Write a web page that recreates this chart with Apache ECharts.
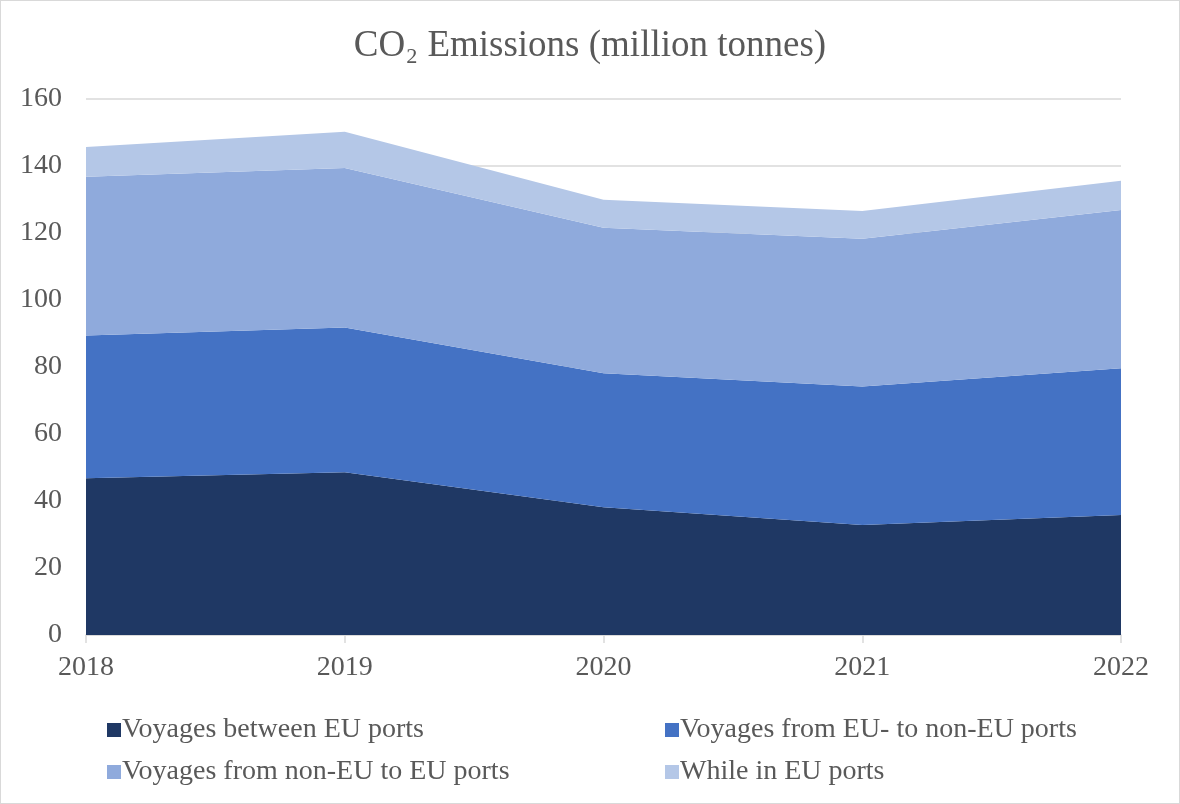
<!DOCTYPE html>
<html>
<head>
<meta charset="utf-8">
<script src="https://cdn.jsdelivr.net/npm/echarts@6/dist/echarts.min.js"></script>
<style>
html, body { margin: 0; padding: 0; background: #fff; }
#main { width: 1178px; height: 802px; border: 1px solid #d9d9d9; }
</style>
</head>
<body>
<div id="main"></div>
<script>
// 数据
var years = ['2018', '2019', '2020', '2021', '2022'];
var names = ['Voyages between EU ports', 'Voyages from EU- to non-EU ports', 'Voyages from non-EU to EU ports', 'While in EU ports'];
var betweenEU = [46.8, 48.6, 38.1, 32.8, 35.8];
var euToNonEU = [42.6, 43.2, 40.0, 41.4, 43.8];
var nonEUToEU = [47.4, 47.6, 43.5, 44.1, 47.3];
var inPorts = [8.9, 10.8, 8.3, 8.3, 8.7];
var colors = ['#1F3864', '#4472C4', '#8FAADC', '#B4C7E7'];

var font = 'Liberation Serif';
var textColor = '#595959';
var myChart = echarts.init(document.getElementById('main'));

function areaSeries(i, data) {
  return {
    name: names[i],
    type: 'line',
    stack: 'total',
    data: data,
    symbol: 'none',
    lineStyle: { width: 0 },
    areaStyle: { color: colors[i], opacity: 1 },
    itemStyle: { color: colors[i] }
  };
}

var legendCommon = {
  orient: 'vertical',
  top: 710,
  itemGap: 14,
  itemWidth: 14,
  itemHeight: 14,
  icon: 'rect',
  textStyle: { fontFamily: font, fontSize: 28, color: textColor, padding: [0, 0, 0, -4] }
};

var option = {
  animation: false,
  title: {
    text: 'CO₂ Emissions (million tonnes)',
    left: 'center',
    top: 22,
    textStyle: { fontFamily: font, fontSize: 37, fontWeight: 'normal', color: textColor }
  },
  legend: [
    Object.assign({ left: 101, data: [names[0], names[2]] }, legendCommon),
    Object.assign({ left: 659, data: [names[1], names[3]] }, legendCommon)
  ],
  grid: { left: 85, right: 58, top: 98, bottom: 168 },
  xAxis: {
    type: 'category',
    data: years,
    boundaryGap: false,
    axisLine: { lineStyle: { color: '#d9d9d9', width: 1.5 } },
    axisTick: { show: true, length: 8, lineStyle: { color: '#d9d9d9', width: 1.5 } },
    axisLabel: { fontFamily: font, fontSize: 28, color: textColor, margin: 19 }
  },
  yAxis: {
    type: 'value',
    min: 0,
    max: 160,
    interval: 20,
    axisLine: { show: false },
    axisTick: { show: false },
    splitLine: { lineStyle: { color: '#d9d9d9', width: 1.5 } },
    axisLabel: { fontFamily: font, fontSize: 28, color: textColor, margin: 24 }
  },
  series: [
    areaSeries(0, betweenEU),
    areaSeries(1, euToNonEU),
    areaSeries(2, nonEUToEU),
    areaSeries(3, inPorts)
  ]
};

myChart.setOption(option);
</script>
</body>
</html>
